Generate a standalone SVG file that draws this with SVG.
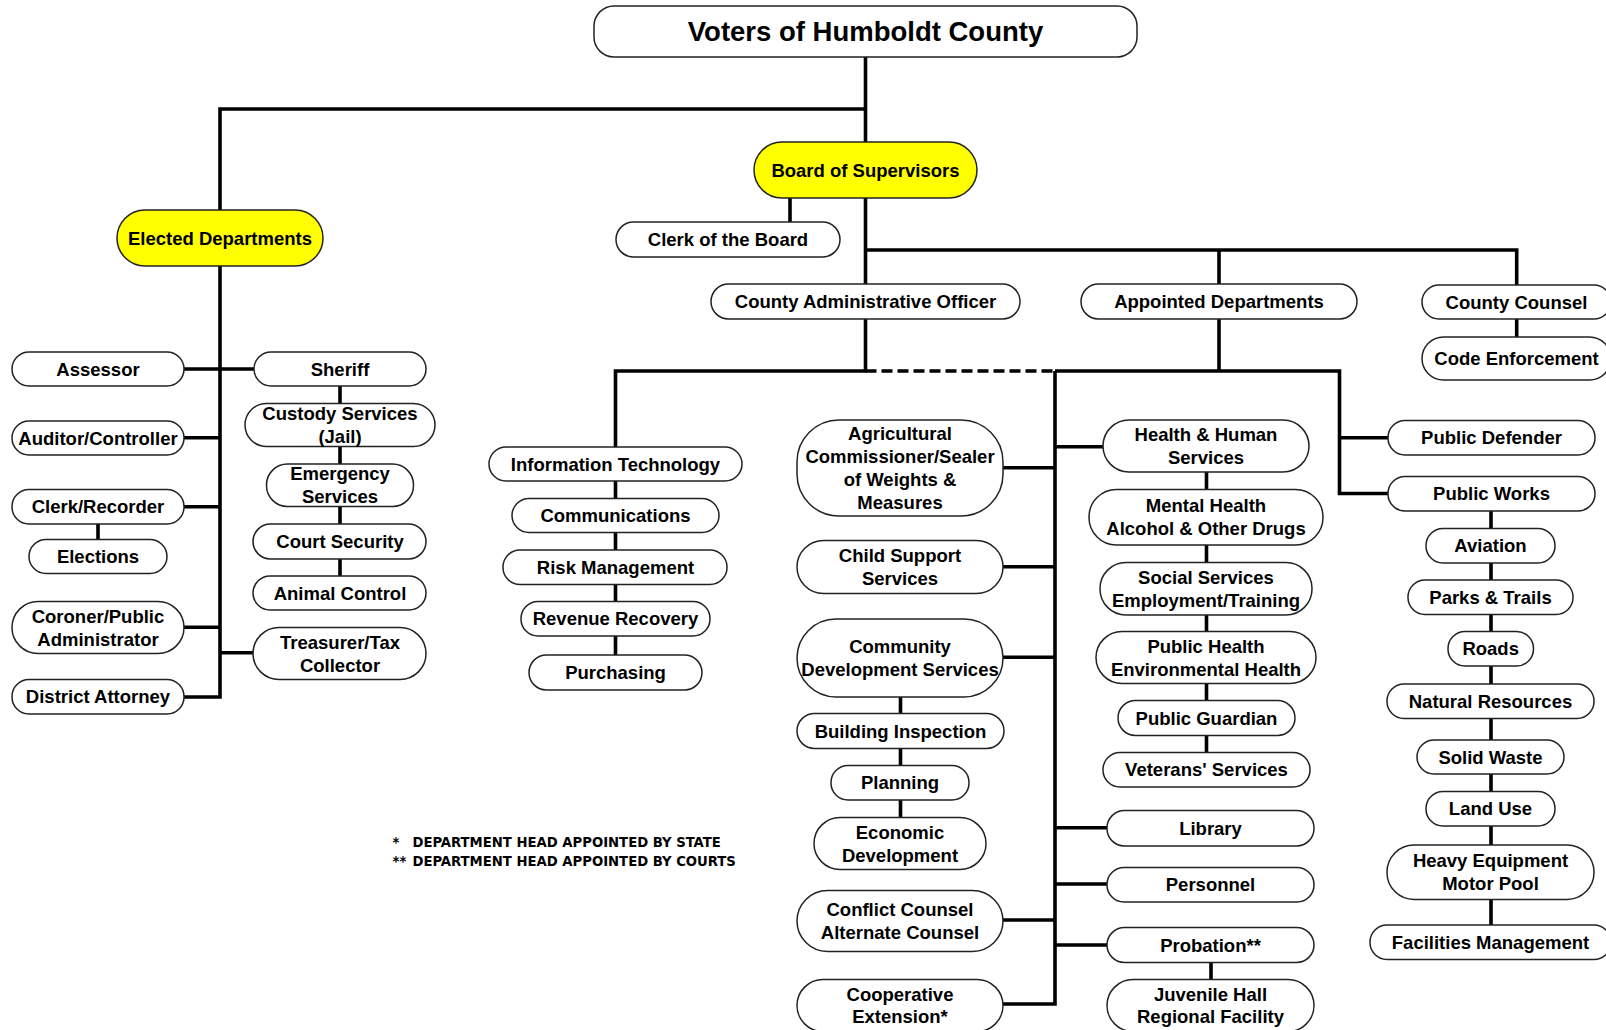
<svg xmlns="http://www.w3.org/2000/svg" width="1606" height="1030" viewBox="0 0 1606 1030">
<style>
.b{fill:#fff;stroke:#222;stroke-width:1.5}
.y{fill:#ffff00;stroke:#222;stroke-width:1.5}
text{font-family:"Liberation Sans",Arial,sans-serif;font-weight:bold;font-size:18.5px;text-anchor:middle;fill:#000}
.big{font-size:27.5px}
.fn{font-family:"DejaVu Sans Condensed","DejaVu Sans",sans-serif;font-size:14.7px;text-anchor:start}
.c{stroke:#000;stroke-width:3.6;fill:none}
.d{stroke:#000;stroke-width:3.6;fill:none;stroke-dasharray:11 5}
</style>
<rect width="1606" height="1030" fill="#fff"/>
<g id="connectors">
<path class="c" d="M865.5,57V142M220,210V109H865.5M865.5,198V284M865.5,250H1516.7V285M1219,250V284M1516.7,319V337"/>
<path class="c" d="M790,198V222"/>
<path class="c" d="M184,697H220V266M184,369H254M184,437.7H220M184,506.7H220M98,524V539.5M184,627.3H220M220,652.7H253"/>
<path class="c" d="M340,386V403.5M340,446.5V464M340,506.5V524M340,559V576"/>
<path class="c" d="M865.5,319V371H615.5V447M615.5,481V498.5M615.5,532.5V550M615.5,584.5V601.5M615.5,636V655"/>
<path class="d" d="M865.5,371H1055"/>
<path class="c" d="M1219,319V371M1055,371H1339.5V493.5H1388M1339.5,437.7H1388"/>
<path class="c" d="M1055,371V1004H1003M1003,467.7H1055M1003,566.7H1055M1003,657.3H1055M1003,920H1055M1055,446.7H1103M1055,827.7H1107M1055,884H1107M1055,945H1107"/>
<path class="c" d="M900.5,697V713.5M900.5,748.5V765.5M900.5,800V817.5"/>
<path class="c" d="M1206.5,472V489.5M1206.5,545V562.5M1206.5,615V631.5M1206.5,683.5V700.5M1206.5,735.5V752.5M1211,962.5V979.5"/>
<path class="c" d="M1491,511V528.5M1491,563V580M1491,614.5V631.5M1491,666V684M1491,718.5V740M1491,774V791.5M1491,826V845M1491,899.5V925"/>
</g>
<g id="voters"><rect class="b" x="594" y="6" width="543" height="51" rx="20"/><text class="big" x="865.5" y="40.5">Voters of Humboldt County</text></g>
<g id="board"><rect class="y" x="754" y="142" width="223" height="56" rx="28"/><text x="865.5" y="176.5">Board of Supervisors</text></g>
<g id="elected"><rect class="y" x="117" y="210" width="206" height="56" rx="28"/><text x="220" y="244.5">Elected Departments</text></g>
<g id="clerk-board"><rect class="b" x="616" y="222" width="224" height="35" rx="17.5"/><text x="728" y="246">Clerk of the Board</text></g>
<g id="cao"><rect class="b" x="711" y="284" width="309" height="35" rx="17.5"/><text x="865.5" y="308">County Administrative Officer</text></g>
<g id="appointed"><rect class="b" x="1081" y="284" width="276" height="35" rx="17.5"/><text x="1219" y="308">Appointed Departments</text></g>
<g id="county-counsel"><rect class="b" x="1422" y="285" width="189" height="34" rx="17"/><text x="1516.5" y="308.5">County Counsel</text></g>
<g id="code-enforcement"><rect class="b" x="1422" y="337" width="189" height="43" rx="21.5"/><text x="1516.5" y="365">Code Enforcement</text></g>

<g id="assessor"><rect class="b" x="12" y="352" width="172" height="34" rx="17"/><text x="98" y="375.5">Assessor</text></g>
<g id="auditor"><rect class="b" x="12" y="421" width="172" height="34" rx="17"/><text x="98" y="444.5">Auditor/Controller</text></g>
<g id="clerk-recorder"><rect class="b" x="12" y="489.5" width="172" height="34.5" rx="17"/><text x="98" y="513.3">Clerk/Recorder</text></g>
<g id="elections"><rect class="b" x="29" y="539.5" width="138" height="34" rx="17"/><text x="98" y="563">Elections</text></g>
<g id="coroner"><rect class="b" x="12" y="601.5" width="172" height="52" rx="26"/><text x="98" y="622.5">Coroner/Public</text><text x="98" y="645.5">Administrator</text></g>
<g id="da"><rect class="b" x="12" y="679.5" width="172" height="34.5" rx="17"/><text x="98" y="703.3">District Attorney</text></g>

<g id="sheriff"><rect class="b" x="254" y="352" width="172" height="34" rx="17"/><text x="340" y="375.5">Sheriff</text></g>
<g id="custody"><rect class="b" x="245" y="403.5" width="190" height="43" rx="21.5"/><text x="340" y="420">Custody Services</text><text x="340" y="443">(Jail)</text></g>
<g id="emergency"><rect class="b" x="266.5" y="464" width="147" height="42.5" rx="21"/><text x="340" y="480.3">Emergency</text><text x="340" y="503.3">Services</text></g>
<g id="court-security"><rect class="b" x="253" y="524" width="173" height="35" rx="17.5"/><text x="340" y="548">Court Security</text></g>
<g id="animal-control"><rect class="b" x="253" y="576" width="173" height="34" rx="17"/><text x="340" y="599.5">Animal Control</text></g>
<g id="treasurer"><rect class="b" x="253" y="627.5" width="173" height="52" rx="26"/><text x="340" y="648.5">Treasurer/Tax</text><text x="340" y="671.5">Collector</text></g>

<g id="it"><rect class="b" x="489" y="447" width="253" height="34" rx="17"/><text x="615.5" y="470.5">Information Technology</text></g>
<g id="communications"><rect class="b" x="512" y="498.5" width="207" height="34" rx="17"/><text x="615.5" y="522">Communications</text></g>
<g id="risk"><rect class="b" x="503" y="550" width="224" height="34.5" rx="17"/><text x="615.5" y="573.8">Risk Management</text></g>
<g id="revenue"><rect class="b" x="521" y="601.5" width="189" height="34.5" rx="17"/><text x="615.5" y="625.3">Revenue Recovery</text></g>
<g id="purchasing"><rect class="b" x="529" y="655" width="173" height="35" rx="17.5"/><text x="615.5" y="679">Purchasing</text></g>

<g id="agricultural"><rect class="b" x="797" y="420" width="206" height="96" rx="42"/><text x="900" y="440">Agricultural</text><text x="900" y="463">Commissioner/Sealer</text><text x="900" y="486">of Weights &amp;</text><text x="900" y="509">Measures</text></g>
<g id="child-support"><rect class="b" x="797" y="540.5" width="206" height="53" rx="26.5"/><text x="900" y="562">Child Support</text><text x="900" y="585">Services</text></g>
<g id="cds"><rect class="b" x="797" y="619" width="206" height="78" rx="39"/><text x="900" y="653">Community</text><text x="900" y="676">Development Services</text></g>
<g id="building"><rect class="b" x="797" y="713.5" width="207" height="35" rx="17.5"/><text x="900.5" y="737.5">Building Inspection</text></g>
<g id="planning"><rect class="b" x="831" y="765.5" width="138" height="34.5" rx="17"/><text x="900" y="789.3">Planning</text></g>
<g id="economic"><rect class="b" x="814" y="817.5" width="172" height="52" rx="26"/><text x="900" y="838.5">Economic</text><text x="900" y="861.5">Development</text></g>
<g id="conflict"><rect class="b" x="797" y="890.5" width="206" height="61" rx="30.5"/><text x="900" y="916">Conflict Counsel</text><text x="900" y="939">Alternate Counsel</text></g>
<g id="cooperative"><rect class="b" x="797" y="979.5" width="206" height="52" rx="26"/><text x="900" y="1000.5">Cooperative</text><text x="900" y="1023">Extension*</text></g>

<g id="hhs"><rect class="b" x="1103" y="420" width="206" height="52" rx="26"/><text x="1206" y="441">Health &amp; Human</text><text x="1206" y="464">Services</text></g>
<g id="mental-health"><rect class="b" x="1089" y="489.5" width="234" height="55.5" rx="27.5"/><text x="1206" y="512.3">Mental Health</text><text x="1206" y="535.3">Alcohol &amp; Other Drugs</text></g>
<g id="social"><rect class="b" x="1100" y="562.5" width="212" height="52.5" rx="26"/><text x="1206" y="583.8">Social Services</text><text x="1206" y="606.8">Employment/Training</text></g>
<g id="public-health"><rect class="b" x="1096" y="631.5" width="220" height="52" rx="26"/><text x="1206" y="652.5">Public Health</text><text x="1206" y="675.5">Environmental Health</text></g>
<g id="public-guardian"><rect class="b" x="1118" y="700.5" width="177" height="35" rx="17.5"/><text x="1206.5" y="724.5">Public Guardian</text></g>
<g id="veterans"><rect class="b" x="1103" y="752.5" width="207" height="34.5" rx="17"/><text x="1206.5" y="776.3">Veterans' Services</text></g>
<g id="library"><rect class="b" x="1107" y="810.5" width="207" height="35.5" rx="17.5"/><text x="1210.5" y="834.8">Library</text></g>
<g id="personnel"><rect class="b" x="1107" y="867.5" width="207" height="34.5" rx="17"/><text x="1210.5" y="891.3">Personnel</text></g>
<g id="probation"><rect class="b" x="1107" y="927.5" width="207" height="35" rx="17.5"/><text x="1210.5" y="951.5">Probation**</text></g>
<g id="juvenile"><rect class="b" x="1107" y="979.5" width="207" height="52" rx="26"/><text x="1210.5" y="1000.5">Juvenile Hall</text><text x="1210.5" y="1023">Regional Facility</text></g>

<g id="public-defender"><rect class="b" x="1388" y="420.5" width="207" height="34.5" rx="17"/><text x="1491.5" y="444.3">Public Defender</text></g>
<g id="public-works"><rect class="b" x="1388" y="476.5" width="207" height="34.5" rx="17"/><text x="1491.5" y="500.3">Public Works</text></g>
<g id="aviation"><rect class="b" x="1426" y="528.5" width="129" height="34.5" rx="17"/><text x="1490.5" y="552.3">Aviation</text></g>
<g id="parks"><rect class="b" x="1408" y="580" width="165" height="34.5" rx="17"/><text x="1490.5" y="603.8">Parks &amp; Trails</text></g>
<g id="roads"><rect class="b" x="1448" y="631.5" width="85.5" height="34.5" rx="17"/><text x="1490.7" y="655.3">Roads</text></g>
<g id="natural"><rect class="b" x="1387" y="684" width="207" height="34.5" rx="17"/><text x="1490.5" y="707.8">Natural Resources</text></g>
<g id="solid-waste"><rect class="b" x="1417" y="740" width="147" height="34" rx="17"/><text x="1490.5" y="763.5">Solid Waste</text></g>
<g id="land-use"><rect class="b" x="1426" y="791.5" width="129" height="34.5" rx="17"/><text x="1490.5" y="815.3">Land Use</text></g>
<g id="heavy"><rect class="b" x="1387" y="845" width="207" height="54.5" rx="27"/><text x="1490.5" y="867.3">Heavy Equipment</text><text x="1490.5" y="890.3">Motor Pool</text></g>
<g id="facilities"><rect class="b" x="1370" y="925" width="241" height="34.5" rx="17"/><text x="1490.5" y="948.8">Facilities Management</text></g>

<g id="footnotes">
<text class="fn" x="392.5" y="847">*</text><text class="fn" x="412.5" y="847">DEPARTMENT HEAD APPOINTED BY STATE</text>
<text class="fn" x="392.5" y="866">**</text><text class="fn" x="412.5" y="866">DEPARTMENT HEAD APPOINTED BY COURTS</text>
</g>
</svg>
